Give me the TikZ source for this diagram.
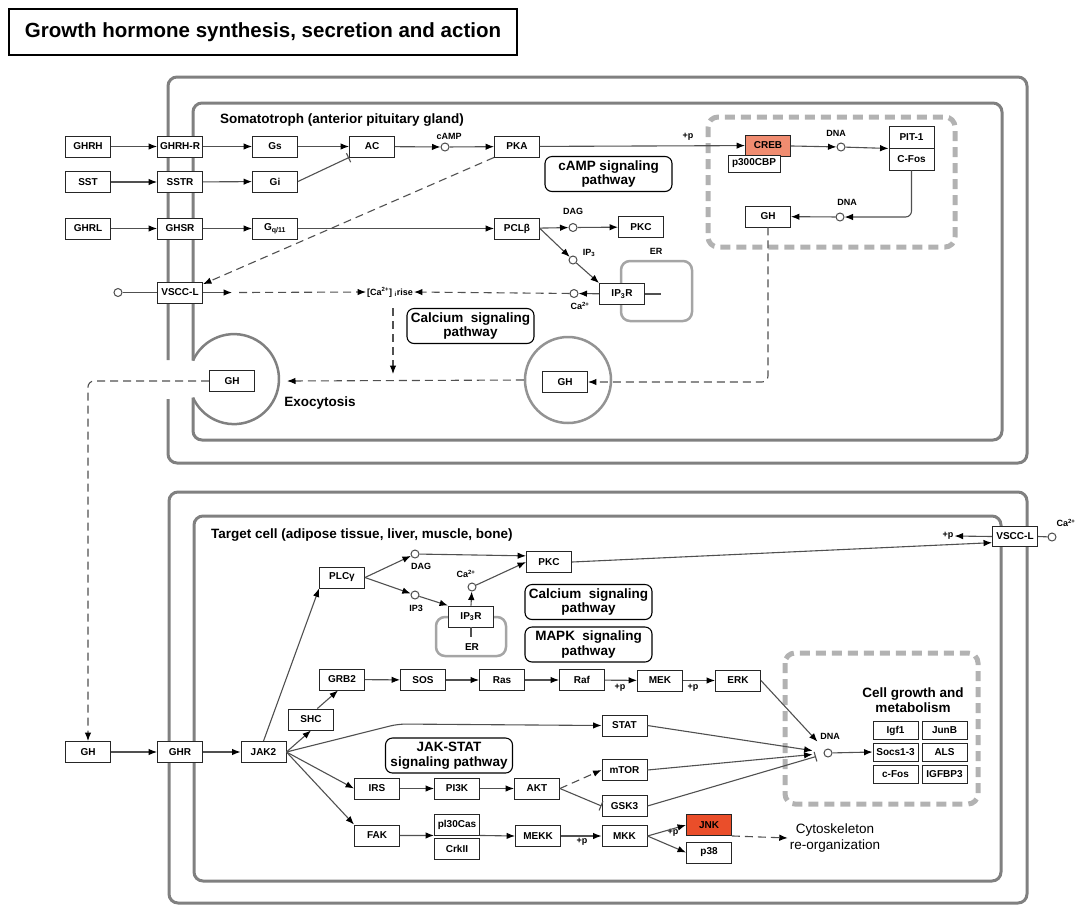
\documentclass[tikz,border=0pt]{standalone}
\usepackage{fontspec}
\setmainfont{Liberation Sans}
\usetikzlibrary{arrows.meta}

\definecolor{framegray}{RGB}{128,128,128}
\definecolor{ergray}{RGB}{165,165,165}
\definecolor{nucgray}{RGB}{178,178,178}
\definecolor{wiregray}{RGB}{80,80,80}
\definecolor{crebred}{RGB}{240,140,112}
\definecolor{jnkred}{RGB}{234,78,42}

\begin{document}
\begin{tikzpicture}[x=1pt, y=-1pt,
    gene/.style={rectangle, draw=black!85, line width=0.9pt, fill=#1, minimum width=45pt, minimum height=21pt, inner sep=0pt, font=\fontsize{10}{11}\selectfont\bfseries},
    gene/.default=white,
    cpd/.style={circle, draw=black!70, line width=1pt, fill=white, minimum size=8pt, inner sep=0pt},
    lbl/.style={inner sep=1pt, font=\fontsize{9}{10}\selectfont\bfseries},
    pathbox/.style={rectangle, draw, line width=1.1pt, rounded corners=7pt, minimum width=127pt, minimum height=35pt, inner sep=1pt, align=center, font=\fontsize{13.5}{14.5}\selectfont\bfseries},
    heading/.style={inner sep=0pt, font=\fontsize{13.5}{15.5}\selectfont\bfseries},
    link/.style={draw=wiregray, line width=1.1pt},
    act/.style={link, -{Latex[length=8.5pt, width=6.5pt, color=black]}},
    actd/.style={act, dash pattern=on 8pt off 5pt},
    inh/.style={link, -{Bar[width=10pt]}},
    frame/.style={draw=framegray, line width=3pt, rounded corners=9pt},
    membrane/.style={draw=ergray, line width=2.5pt, rounded corners=9pt},
    region/.style={draw=nucgray, line width=5pt, dash pattern=on 10pt off 6pt, rounded corners=10pt}
]
    \useasboundingbox (0,0) rectangle (1076,906);

    % Titre
    \node[draw, line width=1.2pt, minimum width=508pt, minimum height=46pt, inner sep=0pt, font=\fontsize{20.5}{22}\selectfont\bfseries] (title) at (263,32) {Growth hormone synthesis, secretion and action};

    % Compartiments (somatotrophe)
    \draw[frame] (168,360) -- (168,77) -- (1027,77) -- (1027,463) -- (168,463) -- (168,399);
    \draw[frame] (193,360.5) -- (193,103) -- (1002,103) -- (1002,440) -- (193,440) -- (193,397.7);
    \draw[draw=framegray, line width=2.5pt] (193,360.5) arc[start angle=155.6, end angle=-155.6, radius=45pt];
    \node[circle, draw=framegray!85, line width=2.5pt, minimum size=86pt, inner sep=0pt] (ves) at (568,380) {};
    \draw[membrane] (621,261) rectangle (692,321);
    \draw[region] (708,117) rectangle (955,247);

    % Compartiments (cellule cible)
    \draw[frame] (169,492) rectangle (1027,903);
    \draw[frame] (194,516) rectangle (1001,881);
    \draw[membrane] (436,617) rectangle (506,656);
    \draw[region] (785,653) rectangle (978,804);

    % Textes
    \node[heading, anchor=west] (soma) at (220,120) {Somatotroph (anterior pituitary gland)};
    \node[heading, anchor=west] (target) at (211,535) {Target cell (adipose tissue, liver, muscle, bone)};
    \node[heading] (exo) at (320,403) {Exocytosis};
    \node[heading, align=center] (cellg) at (913,700) {Cell growth and\\metabolism};
    \node[align=center, inner sep=2pt, font=\fontsize{13.5}{16}\selectfont] (cyto) at (835,838) {Cytoskeleton\\re-organization};

    % Voies de signalisation
    \node[pathbox] (camppath) at (608.5,174) {cAMP signaling\\pathway};
    \node[pathbox] (capath) at (470.5,326) {Calcium\ \ signaling\\pathway};
    \node[pathbox] (capath2) at (588.5,602) {Calcium\ \ signaling\\pathway};
    \node[pathbox] (mapkpath) at (588.5,644.5) {MAPK\ \ signaling\\pathway};
    \node[pathbox] (jspath) at (449,755.5) {JAK-STAT\\signaling pathway};

    % Somatotroph : récepteurs et seconds messagers
    \node[gene] (ghrh) at (88,146.5) {GHRH};
    \node[gene] (ghrhr) at (180,146.5) {GHRH-R};
    \node[gene] (gs) at (275,146.5) {Gs};
    \node[gene] (ac) at (372,146.5) {AC};
    \node[cpd] (camp) at (445,147) {};
    \node[lbl] (camplbl) at (449,136) {cAMP};
    \node[gene] (pka) at (517,146.5) {PKA};
    \node[lbl] (plusp1) at (688,137) {+p};
    \node[gene] (sst) at (88,182) {SST};
    \node[gene] (sstr) at (180,182) {SSTR};
    \node[gene] (gi) at (275,181.5) {Gi};
    \node[gene] (ghrl) at (88,228.5) {GHRL};
    \node[gene] (ghsr) at (180,228.5) {GHSR};
    \node[gene] (gq) at (275,228.5) {G\textsubscript{q/11}};
    \node[gene] (pclb) at (517,228.5) {PCLβ};
    \node[cpd] (dag) at (573,227.5) {};
    \node[lbl] (daglbl) at (573,211) {DAG};
    \node[gene] (pkc) at (641,227) {PKC};
    \node[cpd] (ip3) at (573,260) {};
    \node[lbl] (ip3lbl) at (589,253) {IP\textsubscript{3}};
    \node[lbl] (erlbl) at (656,251) {ER};
    \node[gene] (ip3r) at (622,294) {IP\textsubscript{3}R};
    \node[cpd] (caer) at (574,293.5) {};
    \node[lbl] (caerlbl) at (580,306) {Ca\textsuperscript{2+}};
    \node[gene] (vsccl) at (180,292.5) {VSCC-L};
    \node[cpd] (caout) at (118,292.5) {};
    \node[lbl] (carise) at (390,292) {[Ca\textsuperscript{2+}] \textsubscript{i}rise};
    \coordinate (vtip) at (232,292.5);
    \coordinate (vdash) at (239,292.5);
    \coordinate (ertip) at (661,294);
    \coordinate (exodown) at (393,374);
    \coordinate (exotip) at (287,381);

    % Noyau (somatotroph)
    \node[gene=crebred] (creb) at (768,145.5) {CREB};
    \node[gene, minimum width=52pt, minimum height=17pt] (p300) at (754,163.5) {p300CBP};
    \node[cpd] (dna1) at (841,147) {};
    \node[lbl] (dna1lbl) at (836,133) {DNA};
    \node[gene, minimum height=22pt] (pit1) at (911.5,137) {PIT-1};
    \node[gene, minimum height=22pt] (cfos) at (911.5,159) {C-Fos};
    \node[cpd] (dna2) at (840,217) {};
    \node[lbl] (dna2lbl) at (847,202) {DNA};
    \node[gene] (ghn) at (768,216.5) {GH};

    % Vésicules
    \node[gene] (ghv1) at (232,381) {GH};
    \node[gene] (ghv2) at (565,382) {GH};

    % Cellule cible
    \node[gene] (ghx) at (88,752) {GH};
    \node[gene] (ghr) at (180,752) {GHR};
    \node[gene] (jak2) at (263.5,752) {JAK2};
    \node[gene] (plcg) at (342,577.5) {PLCγ};
    \node[cpd] (dag2) at (415,554) {};
    \node[lbl] (dag2lbl) at (421,566) {DAG};
    \node[cpd] (ip32) at (415,595) {};
    \node[lbl] (ip32lbl) at (416,608) {IP3};
    \node[gene] (ip3r2) at (471,616.5) {IP\textsubscript{3}R};
    \node[cpd] (ca2) at (472,587) {};
    \node[lbl] (ca2lbl) at (466,574) {Ca\textsuperscript{2+}};
    \node[lbl, font=\fontsize{10}{11}\selectfont\bfseries] (er2lbl) at (472,647) {ER};
    \coordinate (er2end) at (471,637);
    \node[gene] (pkc2) at (549,562) {PKC};
    \node[gene, minimum height=20pt] (vsccl2) at (1015,536.5) {VSCC-L};
    \node[cpd] (caout2) at (1052,537) {};
    \node[lbl] (caout2lbl) at (1066,523) {Ca\textsuperscript{2+}};
    \node[lbl] (plusp2) at (948,536) {+p};
    \node[gene] (grb2) at (342,679.5) {GRB2};
    \node[gene] (sos) at (423,680) {SOS};
    \node[gene] (ras) at (502,680) {Ras};
    \node[gene] (raf) at (582,680) {Raf};
    \node[gene] (mek) at (660,680.5) {MEK};
    \node[gene] (erk) at (738,680.5) {ERK};
    \node[lbl] (plusp3) at (620,688) {+p};
    \node[lbl] (plusp4) at (693,688) {+p};
    \node[gene] (shc) at (311,719.5) {SHC};
    \node[gene] (stat) at (624.5,725.5) {STAT};
    \coordinate (jsbend) at (398,724);
    \node[gene] (irs) at (377,788.5) {IRS};
    \node[gene] (pi3k) at (457,788.5) {PI3K};
    \node[gene] (akt) at (537,788.5) {AKT};
    \node[gene] (mtor) at (624.5,770) {mTOR};
    \node[gene] (gsk3) at (624.5,806) {GSK3};
    \node[gene] (fak) at (377,835.5) {FAK};
    \node[gene] (pl30) at (457,824.5) {pl30Cas};
    \node[gene] (crk) at (457,848.5) {CrkII};
    \node[gene] (mekk) at (538,836) {MEKK};
    \node[gene] (mkk) at (624.5,836) {MKK};
    \node[lbl] (plusp5) at (582,842) {+p};
    \node[lbl] (plusp6) at (673,833) {+p};
    \node[gene=jnkred] (jnk) at (709,825) {JNK};
    \node[gene] (p38) at (709,852.5) {p38};
    \node[cpd] (dna3) at (828,753) {};
    \node[lbl] (dna3lbl) at (830,736) {DNA};
    \node[gene, minimum height=18pt] (igf1) at (895.5,730.5) {Igf1};
    \node[gene, minimum height=18pt] (junb) at (944.5,730.5) {JunB};
    \node[gene, minimum height=18pt] (socs) at (895.5,752) {Socs1-3};
    \node[gene, minimum height=18pt] (als) at (944.5,752) {ALS};
    \node[gene, minimum height=18pt] (cfos2) at (895.5,774) {c-Fos};
    \node[gene, minimum height=18pt] (igfbp3) at (944.5,774) {IGFBP3};

    % Connexions (somatotroph)
    \draw[act] (ghrh) -- (ghrhr);
    \draw[act] (sst) -- (sstr);
    \draw[act] (ghrl) -- (ghsr);
    \draw[act] (ghrhr) -- (gs);
    \draw[act] (sstr) -- (gi);
    \draw[act] (ghsr) -- (gq);
    \draw[act] (gs) -- (ac);
    \draw[inh] (gi.east) -- (ac.south west);
    \draw[act] (ac) -- (camp);
    \draw[act] (camp) -- (pka);
    \draw[act] (pka) -- (creb);
    \draw[act] (creb) -- (dna1);
    \draw[act] (dna1) -- (pit1.south west);
    \draw[act, rounded corners=6pt] (cfos.south) |- (dna2);
    \draw[act] (dna2) -- (ghn);
    \draw[act] (gq) -- (pclb);
    \draw[act] (pclb) -- (dag);
    \draw[act] (dag) -- (pkc);
    \draw[act] (pclb.east) -- (ip3);
    \draw[act] (ip3) -- (ip3r.north west);
    \draw[act] (ip3r) -- (caer);
    \draw[link] (ip3r.east) -- (ertip);
    \draw[link] (caout) -- (vsccl);
    \draw[act] (vsccl.east) -- (vtip);
    \draw[actd] (vdash) -- (carise.west);
    \draw[actd] (caer) -- (carise.east);
    \draw[actd] (pka.south west) -- (vsccl.20);
    \draw[actd] (carise.south) ++(3,10) -- (exodown);
    \draw[actd] (ves.west) -- (exotip);
    \draw[actd, rounded corners=6pt] (ghn.south) |- (ghv2.east);
    \draw[actd, rounded corners=6pt] (ghv1.west) -| (ghx.north);

    % Connexions (cellule cible)
    \draw[act] (ghx) -- (ghr);
    \draw[act] (ghr) -- (jak2);
    \draw[act] (jak2.north) -- (plcg.south west);
    \draw[act] (jak2.east) -- (shc.south);
    \draw[act] (shc.60) -- (grb2.250);
    \draw[act, rounded corners=8pt] (jak2.east) -- (jsbend) -- (stat.west);
    \draw[act] (jak2.east) -- (irs.west);
    \draw[act] (jak2.east) -- (fak.north west);
    \draw[act] (plcg.east) -- (dag2);
    \draw[act] (plcg.east) -- (ip32);
    \draw[act] (dag2) -- (pkc2.165);
    \draw[act] (ip32) -- (ip3r2.north west);
    \draw[act] (ip3r2.north) -- (ca2);
    \draw[act] (ca2) -- (pkc2.west);
    \draw[link] (ip3r2.south) -- (er2end);
    \draw[act] (pkc2.east) -- (vsccl2.195);
    \draw[act] (vsccl2.west) -- (plusp2.east);
    \draw[link] (vsccl2.east) -- (caout2);
    \draw[act] (grb2) -- (sos);
    \draw[act] (sos) -- (ras);
    \draw[act] (ras) -- (raf);
    \draw[act] (raf) -- (mek);
    \draw[act] (mek) -- (erk);
    \draw[act] (irs) -- (pi3k);
    \draw[act] (pi3k) -- (akt);
    \draw[actd] (akt.east) -- (mtor.west);
    \draw[inh] (akt.east) -- (gsk3.west);
    \draw[act] (fak) -- (pl30.south west);
    \draw[act] (pl30.south east) -- (mekk.west);
    \draw[act] (mekk) -- (mkk);
    \draw[act] (mkk.east) -- (jnk.west);
    \draw[act] (mkk.east) -- (p38.west);
    \draw[actd] (jnk.south east) -- (cyto.west);
    \draw[act, shorten >=11pt] (erk.east) -- (dna3);
    \draw[act, shorten >=11pt] (stat.east) -- (dna3);
    \draw[act, shorten >=11pt] (mtor.east) -- (dna3);
    \draw[inh, shorten >=8pt] (gsk3.east) -- (dna3);
    \draw[act] (dna3) -- (socs.west);

\end{tikzpicture}
\end{document}
